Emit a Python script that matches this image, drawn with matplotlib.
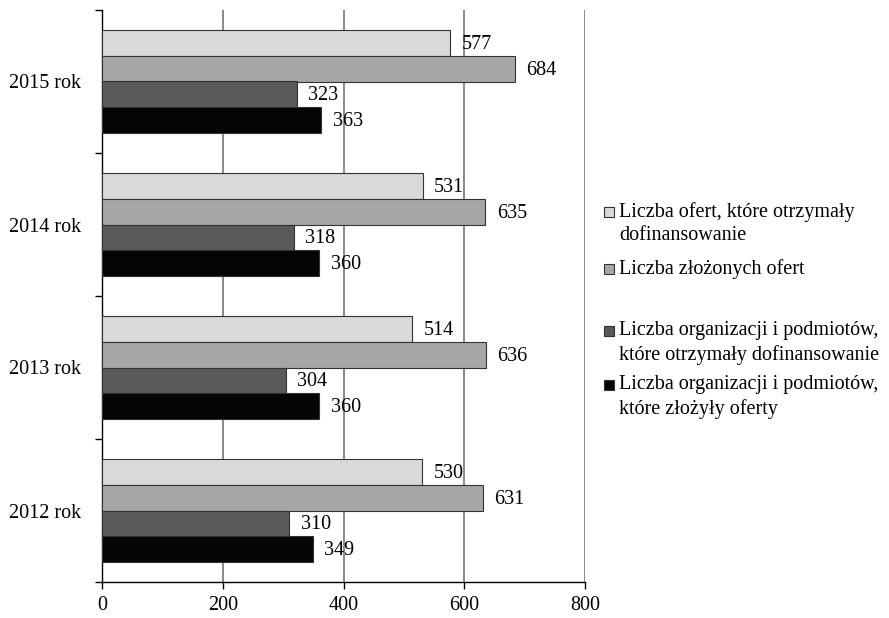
import numpy as np
import matplotlib.pyplot as plt
import matplotlib.patches as patches

plt.rcParams['font.family'] = ['Liberation Serif', 'DejaVu Serif']

years = ['2012 rok', '2013 rok', '2014 rok', '2015 rok']
oferty_dofin = [530, 514, 531, 577]
oferty_zlozone = [631, 636, 635, 684]
org_dofin = [310, 304, 318, 323]
org_zlozone = [349, 360, 360, 363]

series = [oferty_dofin, oferty_zlozone, org_dofin, org_zlozone]
colors = ['#d9d9d9', '#a6a6a6', '#5a5a5a', '#050505']
labels = [['Liczba ofert, które otrzymały', 'dofinansowanie'],
          ['Liczba złożonych ofert'],
          ['Liczba organizacji i podmiotów,', 'które otrzymały dofinansowanie'],
          ['Liczba organizacji i podmiotów,', 'które złożyły oferty']]

fig = plt.figure(figsize=(8.89, 6.18), dpi=100)
ax = fig.add_axes([102 / 889, 1 - 582 / 618, (585 - 102) / 889, (582 - 10) / 618])

y = np.arange(len(years))
h = 0.18
offsets = [1.5 * h, 0.5 * h, -0.5 * h, -1.5 * h]

for vals, off, c in zip(series, offsets, colors):
    bars = ax.barh(y + off, vals, height=h, color=c, edgecolor='#333333',
                   linewidth=0.8, zorder=3)
    for b, v in zip(bars, vals):
        ax.text(v + 19, b.get_y() + b.get_height() / 2 - 0.01, str(v),
                va='center', ha='left', fontsize=14.5, zorder=4)

ax.set_xlim(0, 800)
ax.set_ylim(-0.5, len(years) - 0.5)
ax.set_xticks([0, 200, 400, 600, 800])
ax.tick_params(axis='x', labelsize=14.5, length=5, width=1, direction='out', pad=5)
for xv in [200, 400, 600, 800]:
    ax.axvline(xv, color='#8a8a8a', linewidth=1.4, zorder=1)

ax.set_yticks(np.arange(-0.5, len(years), 1.0))
ax.set_yticklabels([])
ax.set_yticks(y, minor=True)
ax.set_yticklabels(years, minor=True)
ax.tick_params(axis='y', which='major', length=5, width=1)
ax.tick_params(axis='y', which='minor', length=0, labelsize=14.5, pad=15)

for s in ['top', 'right']:
    ax.spines[s].set_visible(False)
ax.spines['left'].set_linewidth(1)
ax.spines['bottom'].set_linewidth(1)

# legend drawn by hand to keep the uneven spacing (pixel rows of first lines)
leg_y = [212, 269, 331, 385]
line_h = 24
for ly, c, lines in zip(leg_y, colors, labels):
    sq = patches.Rectangle((604 / 889, 1 - (ly + 5) / 618), 10 / 889, 10 / 618,
                           transform=fig.transFigure, facecolor=c,
                           edgecolor='#333333', linewidth=0.8)
    fig.patches.append(sq)
    for k, txt in enumerate(lines):
        fig.text(619 / 889, 1 - (ly + k * line_h) / 618, txt, fontsize=14.5,
                 va='center', ha='left')

fig.savefig('out.png', dpi=100)
